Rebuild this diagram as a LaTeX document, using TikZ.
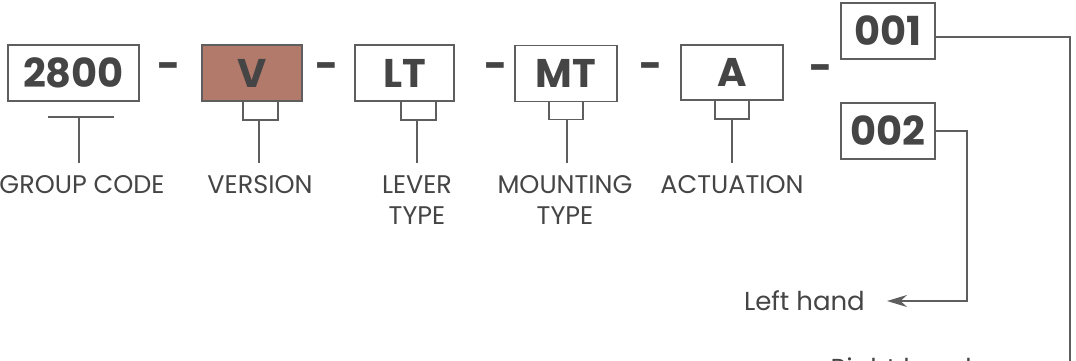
\documentclass[tikz,border=0pt]{standalone}
\usepackage{fontspec}
\setmainfont{Poppins}
\usetikzlibrary{arrows.meta,calc}
\definecolor{ink}{HTML}{454545}
\definecolor{linec}{HTML}{5E5E5E}
\definecolor{vfill}{HTML}{B27A6B}
\tikzset{
  codebox/.style={draw=linec,line width=1.5pt,inner sep=0pt,minimum height=56pt,text=ink,font=\fontsize{40}{40}\selectfont\bfseries},
  dashmark/.style={text=ink,inner sep=0pt,font=\fontsize{40}{40}\selectfont\bfseries},
  lbl/.style={text=ink,inner sep=0pt,align=center,font=\fontsize{25.5}{31}\selectfont},
  hand/.style={text=ink,inner sep=0pt,font=\fontsize{26}{26}\selectfont},
  conn/.style={draw=linec,line width=1.5pt},
  arr/.style={conn,-{Stealth[length=20pt,width=12pt]}}
}
\begin{document}
\begin{tikzpicture}[x=1pt,y=-1pt]
\useasboundingbox (0,0) rectangle (1076,361);
% boxes
\node[codebox,minimum width=131pt] (b2800) at (73.5,73) {2800};
\node[codebox,minimum width=100pt,fill=vfill] (bV) at (252,73) {V};
\node[codebox,minimum width=99pt] (bLT) at (404.5,73) {LT};
\node[codebox,minimum width=102pt] (bMT) at (566,73.5) {MT};
\node[codebox,minimum width=102pt,minimum height=55pt] (bA) at (732,72.5) {A};
\node[codebox,minimum width=94pt] (b001) at (888,31) {001};
\node[codebox,minimum width=94pt] (b002) at (888,131) {002};
% dashes
\node[dashmark] (d1) at (169,71) {-};
\node[dashmark] (d2) at (327,71) {-};
\node[dashmark] (d3) at (496,71) {-};
\node[dashmark] (d4) at (651,71) {-};
\node[dashmark] (d5) at (821,73) {-};
% labels
\node[lbl,anchor=north] (gc) at (82,175) {GROUP CODE};
\node[lbl,anchor=north] (ver) at (260,175) {VERSION};
\node[lbl,anchor=north] (lev) at (417,175) {LEVER\\TYPE};
\node[lbl,anchor=north] (mnt) at (565,175) {MOUNTING\\TYPE};
\node[lbl,anchor=north] (act) at (732,175) {ACTUATION};
% brackets
\draw[conn] (48,117) -- (114,117);
\draw[conn] (79,117) -- (79,163);
\draw[conn] ($(bV.south)+(-9,0)$) -- ++(0,18) -- ++(35,0) -- ++(0,-18);
\draw[conn] (259,119) -- (259,163);
\draw[conn] ($(bLT.south)+(-3.5,0)$) -- ++(0,18) -- ++(35,0) -- ++(0,-18);
\draw[conn] (417,119) -- (417,163);
\draw[conn] ($(bMT.south)+(-17,0)$) -- ++(0,17) -- ++(34,0) -- ++(0,-17);
\draw[conn] (567,119) -- (567,163);
\draw[conn] ($(bA.south)+(-17,0)$) -- ++(0,18) -- ++(34,0) -- ++(0,-18);
\draw[conn] (732,118) -- (732,163);
% hand connectors
\node[hand,anchor=east] (lh) at (865,301) {Left hand};
\node[hand,anchor=east] (rh) at (972,371) {Right hand};
\coordinate (c1) at (1070,37);
\coordinate (c2) at (967,131);
\draw[arr] (b002.east) -- (c2) -- (c2 |- lh.east) -- ($(lh.east)+(22,0)$);
\draw[arr] ($(b001.east)+(0,6)$) -- (c1) -- (c1 |- rh.east) -- ($(rh.east)+(22,0)$);
\end{tikzpicture}
\end{document}
